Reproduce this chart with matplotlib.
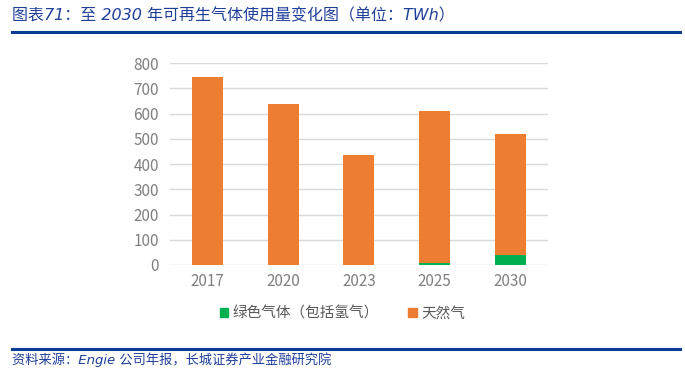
import matplotlib
matplotlib.use("Agg")
import matplotlib.pyplot as plt
import numpy as np
from matplotlib.lines import Line2D
from matplotlib.patches import Patch

plt.rcParams['font.family'] = ['Noto Sans CJK SC', 'DejaVu Sans']

years = ['2017', '2020', '2023', '2025', '2030']
green_gas = [0, 0, 0, 9, 38]
natural_gas = [745, 640, 438, 601, 483]
series_names = ['绿色气体（包括氢气）', '天然气']
yticks = [0, 100, 200, 300, 400, 500, 600, 700, 800]

title = '图表71：至 2030 年可再生气体使用量变化图（单位：TWh）'
source = '资料来源：Engie 公司年报，长城证券产业金融研究院'

fig = plt.figure(figsize=(6.85, 3.7), dpi=100)
ax = fig.add_axes([0.248, 0.284, 0.552, 0.545])

x = np.arange(len(years))
w = 0.41
c_green = '#00B050'
c_orange = '#ED7D31'
ax.bar(x, green_gas, w, color=c_green, zorder=3)
ax.bar(x, natural_gas, w, bottom=green_gas, color=c_orange, zorder=3)

ax.set_xlim(-0.5, len(years) - 0.5)
ax.set_ylim(0, 800)
ax.set_yticks(yticks)
ax.set_xticks(x)
ax.set_xticklabels(years)
ax.yaxis.grid(True, color='#D9D9D9', linewidth=1, zorder=0)
for s in ax.spines.values():
    s.set_visible(False)
ax.tick_params(axis='both', length=0, labelsize=11, colors='#808080')
ax.tick_params(axis='y', pad=8)
ax.tick_params(axis='x', pad=6)

handles = [Patch(color=c_green), Patch(color=c_orange)]
fig.legend(handles, series_names, loc='center', bbox_to_anchor=(0.5, 0.152),
           ncol=2, frameon=False, fontsize=10.5, labelcolor='#595959',
           handlelength=0.6, handleheight=0.6, handletextpad=0.3, columnspacing=2.0)

blue_text = '#1F3F99'
blue_line = '#0A3C96'
fig.text(0.018, 0.958, title, fontsize=11.5, color=blue_text, style='italic',
         family=['DejaVu Sans', 'Noto Sans CJK SC'], ha='left', va='center')
fig.add_artist(Line2D([0.017, 0.993], [0.913, 0.913], color=blue_line, linewidth=2.2))
fig.add_artist(Line2D([0.017, 0.993], [0.057, 0.057], color=blue_line, linewidth=2.2))
fig.text(0.018, 0.027, source, fontsize=9.5, color=blue_text, style='italic',
         family=['DejaVu Sans', 'Noto Sans CJK SC'], ha='left', va='center')

fig.savefig('out.png', dpi=100)
